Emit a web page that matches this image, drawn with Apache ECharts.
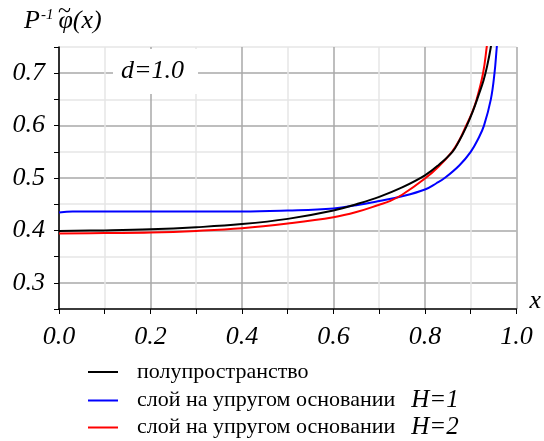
<!DOCTYPE html>
<html>
<head>
<meta charset="utf-8">
<script src="https://cdn.jsdelivr.net/npm/echarts@6/dist/echarts.min.js"></script>
<style>
html,body{margin:0;padding:0;background:#fff;}
#c{width:544px;height:441px;}
</style>
</head>
<body>
<div id="c"></div>
<script>
// ---- data ----
const seriesNames = ['полупространство', 'слой на упругом основании H=1', 'слой на упругом основании H=2'];
const halfSpaceX = [0, 0.1, 0.2, 0.3, 0.4, 0.5, 0.6, 0.65, 0.7, 0.75, 0.8, 0.83, 0.86, 0.875, 0.89, 0.905, 0.918, 0.928, 0.936, 0.944, 0.951];
const halfSpaceY = [0.399, 0.400, 0.402, 0.406, 0.412, 0.422, 0.438, 0.450, 0.464, 0.482, 0.505, 0.525, 0.550, 0.571, 0.597, 0.628, 0.660, 0.686, 0.714, 0.750, 0.790];
const layerH1X = [0, 0.03, 0.1, 0.2, 0.3, 0.4, 0.5, 0.6, 0.65, 0.7, 0.75, 0.8, 0.825, 0.843, 0.875, 0.9, 0.917, 0.929, 0.944, 0.952, 0.957, 0.962];
const layerH1Y = [0.434, 0.436, 0.436, 0.436, 0.436, 0.436, 0.438, 0.442, 0.448, 0.456, 0.465, 0.478, 0.490, 0.500, 0.524, 0.550, 0.576, 0.600, 0.650, 0.700, 0.750, 0.800];
const layerH2X = [0, 0.1, 0.2, 0.3, 0.4, 0.5, 0.6, 0.65, 0.7, 0.723, 0.75, 0.8, 0.83, 0.859, 0.875, 0.89, 0.903, 0.913, 0.927, 0.935, 0.942];
const layerH2Y = [0.394, 0.395, 0.396, 0.399, 0.404, 0.413, 0.425, 0.435, 0.449, 0.456, 0.468, 0.499, 0.522, 0.550, 0.572, 0.600, 0.625, 0.650, 0.700, 0.750, 0.800];
const xTickLabels = ['0.0', '', '0.2', '', '0.4', '', '0.6', '', '0.8', '', '1.0'];
const yTickLabels = ['', '0.3', '', '0.4', '', '0.5', '', '0.6', '', '0.7', ''];
const annotation = 'd=1.0';

function zip(xs, ys) { return xs.map((x, i) => [x, ys[i]]); }

const serif = '"Liberation Serif", "DejaVu Serif", serif';
const chart = echarts.init(document.getElementById('c'), null, {renderer: 'canvas'});
const colors = ['#000000', '#0000ff', '#ff0000'];
const datasets = [zip(halfSpaceX, halfSpaceY), zip(layerH1X, layerH1Y), zip(layerH2X, layerH2Y)];
const legendTops = [361, 388, 415];

chart.setOption({
  animation: false,
  backgroundColor: '#ffffff',
  title: [
    {
      text: '{p|P}{s|-1}{f|φ(x)}',
      left: 24, top: 8, padding: 0,
      textStyle: {
        fontWeight: 'normal',
        rich: {
          p: {fontFamily: serif, fontStyle: 'italic', fontWeight: 'normal', fontSize: 26, color: '#000'},
          s: {fontFamily: serif, fontStyle: 'italic', fontWeight: 'normal', fontSize: 15, color: '#000', verticalAlign: 'top', padding: [0, 5, 12, 1]},
          f: {fontFamily: serif, fontStyle: 'italic', fontWeight: 'normal', fontSize: 26, color: '#000'}
        }
      }
    },
    {
      text: '~',
      left: 58, top: 0, padding: 0,
      textStyle: {fontFamily: serif, fontStyle: 'normal', fontWeight: 'normal', fontSize: 24, color: '#000'}
    },
    {
      text: annotation,
      left: 113, top: 49,
      backgroundColor: '#ffffff',
      padding: [9, 14, 10, 8],
      textStyle: {fontFamily: serif, fontStyle: 'italic', fontWeight: 'normal', fontSize: 26, color: '#000'}
    }
  ],
  grid: {left: 59, right: 23, top: 47, bottom: 132, containLabel: false},
  xAxis: {
    type: 'value', min: 0, max: 1, interval: 0.1,
    name: 'x', nameLocation: 'end', nameGap: 13,
    nameTextStyle: {fontFamily: serif, fontStyle: 'italic', fontSize: 26, color: '#000', verticalAlign: 'bottom', padding: [0, 0, -5, 0]},
    axisLine: {show: true, lineStyle: {color: '#000', width: 1.5}},
    axisTick: {show: true, length: 5, lineStyle: {color: '#000', width: 1}},
    axisLabel: {
      margin: 15, color: '#000', fontFamily: serif, fontStyle: 'italic', fontSize: 26,
      formatter: v => xTickLabels[Math.round(v * 10)] || ''
    },
    splitLine: {show: true, lineStyle: {color: ['#a8a8a8', '#e6e6e6'], width: 1.5}}
  },
  yAxis: {
    type: 'value', min: 0.25, max: 0.75, interval: 0.05,
    axisLine: {show: true, lineStyle: {color: '#000', width: 1.5}},
    axisTick: {show: true, length: 5, lineStyle: {color: '#000', width: 1}},
    axisLabel: {
      margin: 14, color: '#000', fontFamily: serif, fontStyle: 'italic', fontSize: 26,
      formatter: v => yTickLabels[Math.round((v - 0.25) * 20)] || ''
    },
    splitLine: {show: true, lineStyle: {color: ['#e6e6e6', '#a8a8a8'], width: 1.5}}
  },
  legend: seriesNames.map((n, i) => ({
    left: 88, top: legendTops[i], padding: 0,
    icon: 'rect', itemWidth: 30, itemHeight: 2,
    itemStyle: {color: colors[i]},
    data: [n],
    textStyle: {
      fontFamily: serif, fontSize: 22, color: '#000', padding: [0, 0, 0, 14],
      rich: {
        t: {fontFamily: serif, fontSize: 22, color: '#000'},
        h: {fontFamily: serif, fontStyle: 'italic', fontSize: 25, color: '#000', padding: [0, 0, 0, 16]}
      }
    },
    formatter: name => {
      const m = name.match(/^(.*) (H=\d)$/);
      if (m) return '{t|' + m[1] + '}{h|' + m[2] + '}';
      return '{t|' + name + '}';
    }
  })),
  series: seriesNames.map((n, i) => ({
    name: n, type: 'line', data: datasets[i],
    symbol: 'none', smooth: 0.4,
    clip: true,
    lineStyle: {color: colors[i], width: 2},
    itemStyle: {color: colors[i]},
    z: 3 + (i === 0 ? 2 : i === 2 ? 1 : 0)
  }))
});
</script>
</body>
</html>
